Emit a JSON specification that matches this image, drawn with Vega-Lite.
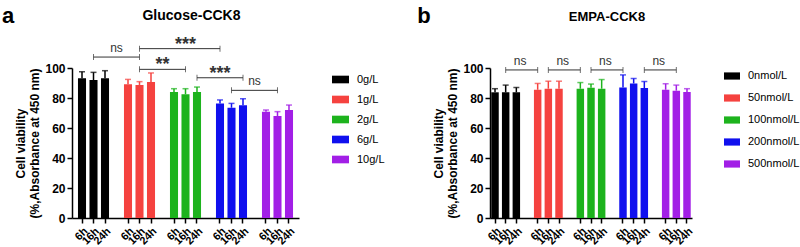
{
  "$schema": "https://vega.github.io/schema/vega-lite/v6.json",
  "padding": {"left": 1, "top": 4, "right": 0, "bottom": 0},
  "spacing": 29,
  "config": {
    "view": {"stroke": null},
    "font": "Liberation Sans",
    "axis": {"domainColor": "black", "domainWidth": 1.5, "tickColor": "black", "tickWidth": 1.5, "tickSize": 5, "labelFont": "Liberation Sans", "labelFontWeight": "bold", "labelColor": "black", "titleFont": "Liberation Sans", "titleColor": "black", "grid": false},
    "legend": {"labelFont": "Liberation Sans", "labelFontSize": 11, "labelColor": "black", "symbolType": "M-1,-0.45H1V0.45H-1Z", "symbolSize": 289, "symbolStrokeWidth": 0, "rowPadding": 5, "labelOffset": 8, "offset": 33, "padding": 0}
  },
  "hconcat": [
    {
      "width": 227,
      "height": 150,
      "data": {"values": [
        {"bar": "0g/L|6h", "group": "0g/L", "mean": 93.1, "top": 97.5},
        {"bar": "0g/L|16h", "group": "0g/L", "mean": 92.0, "top": 97.1},
        {"bar": "0g/L|24h", "group": "0g/L", "mean": 93.1, "top": 98.2},
        {"bar": "1g/L|6h", "group": "1g/L", "mean": 89.1, "top": 92.4},
        {"bar": "1g/L|16h", "group": "1g/L", "mean": 88.7, "top": 90.9},
        {"bar": "1g/L|24h", "group": "1g/L", "mean": 90.7, "top": 96.7},
        {"bar": "2g/L|6h", "group": "2g/L", "mean": 84.0, "top": 86.2},
        {"bar": "2g/L|16h", "group": "2g/L", "mean": 82.5, "top": 86.2},
        {"bar": "2g/L|24h", "group": "2g/L", "mean": 84.0, "top": 87.3},
        {"bar": "6g/L|6h", "group": "6g/L", "mean": 76.4, "top": 78.7},
        {"bar": "6g/L|16h", "group": "6g/L", "mean": 73.5, "top": 76.4},
        {"bar": "6g/L|24h", "group": "6g/L", "mean": 75.1, "top": 79.5},
        {"bar": "10g/L|6h", "group": "10g/L", "mean": 70.9, "top": 72.0},
        {"bar": "10g/L|16h", "group": "10g/L", "mean": 68.0, "top": 70.9},
        {"bar": "10g/L|24h", "group": "10g/L", "mean": 72.0, "top": 75.3}
      ]},
      "encoding": {
        "x": {"field": "bar", "type": "nominal", "sort": null,
          "scale": {"domain": ["0g/L|6h", "0g/L|16h", "0g/L|24h", "gap1", "1g/L|6h", "1g/L|16h", "1g/L|24h", "gap2", "2g/L|6h", "2g/L|16h", "2g/L|24h", "gap3", "6g/L|6h", "6g/L|16h", "6g/L|24h", "gap4", "10g/L|6h", "10g/L|16h", "10g/L|24h"], "paddingInner": 0.3, "paddingOuter": 0.52},
          "axis": {"title": null, "labelAngle": -45, "labelFontSize": 11, "labelPadding": 2,
            "values": ["0g/L|6h", "0g/L|16h", "0g/L|24h", "1g/L|6h", "1g/L|16h", "1g/L|24h", "2g/L|6h", "2g/L|16h", "2g/L|24h", "6g/L|6h", "6g/L|16h", "6g/L|24h", "10g/L|6h", "10g/L|16h", "10g/L|24h"],
            "labelExpr": "split(datum.value, '|')[1]"}},
        "y": {"type": "quantitative", "scale": {"domain": [0, 100], "nice": false},
          "axis": {"values": [0, 20, 40, 60, 80, 100], "labelFontSize": 12, "title": ["Cell viability", "(%,Absorbance at 450 nm)"], "titleFontSize": 12, "titleFontWeight": "bold", "titleLineHeight": 14, "titlePadding": 3}}
      },
      "layer": [
        {"mark": {"type": "bar"},
          "encoding": {"y": {"field": "mean", "type": "quantitative"},
            "color": {"field": "group", "type": "nominal", "title": null,
              "scale": {"domain": ["0g/L", "1g/L", "2g/L", "6g/L", "10g/L"], "range": ["#000000", "#F5423F", "#1DB31D", "#1010EE", "#A21FE6"]},
              "legend": {"symbolSize": 289, "offset": 30, "padding": 3, "rowPadding": 6}}}},
        {"mark": {"type": "rule", "strokeWidth": 1.5},
          "encoding": {"y": {"field": "mean", "type": "quantitative"}, "y2": {"field": "top"},
            "stroke": {"field": "group", "type": "nominal", "legend": null,
              "scale": {"domain": ["0g/L", "1g/L", "2g/L", "6g/L", "10g/L"], "range": ["#000000", "#F5423F", "#1DB31D", "#1010EE", "#A21FE6"]}}}},
        {"mark": {"type": "tick", "orient": "horizontal", "size": 6, "thickness": 1.5},
          "encoding": {"y": {"field": "top", "type": "quantitative"},
            "fill": {"field": "group", "type": "nominal", "legend": null,
              "scale": {"domain": ["0g/L", "1g/L", "2g/L", "6g/L", "10g/L"], "range": ["#000000", "#F5423F", "#1DB31D", "#1010EE", "#A21FE6"]}}}},
        {
          "data": {"values": [
            {"from": "0g/L|16h", "to": "1g/L|16h", "yv": 107.3, "label": "ns", "at": "gap1"},
            {"from": "1g/L|16h", "to": "6g/L|6h", "yv": 112.9, "label": "***", "at": "2g/L|16h"},
            {"from": "1g/L|16h", "to": "2g/L|16h", "yv": 99.1, "label": "**", "at": "gap2"},
            {"from": "2g/L|24h", "to": "6g/L|24h", "yv": 93.5, "label": "***", "at": "6g/L|6h"},
            {"from": "6g/L|16h", "to": "10g/L|16h", "yv": 85.1, "label": "ns", "at": "gap4"}
          ]},
          "layer": [
            {"mark": {"type": "rule", "color": "#333333", "strokeWidth": 1},
              "encoding": {"x": {"field": "from", "type": "nominal"}, "x2": {"field": "to"}, "y": {"field": "yv", "type": "quantitative"}}},
            {"mark": {"type": "tick", "orient": "vertical", "size": 6, "thickness": 1, "color": "#333333"},
              "encoding": {"x": {"field": "from", "type": "nominal"}, "y": {"field": "yv", "type": "quantitative"}}},
            {"mark": {"type": "tick", "orient": "vertical", "size": 6, "thickness": 1, "color": "#333333"},
              "encoding": {"x": {"field": "to", "type": "nominal"}, "y": {"field": "yv", "type": "quantitative"}}},
            {"transform": [{"filter": "datum.label === 'ns'"}],
              "mark": {"type": "text", "fontSize": 12, "baseline": "alphabetic", "dy": -5, "color": "#333333"},
              "encoding": {"x": {"field": "at", "type": "nominal"}, "y": {"field": "yv", "type": "quantitative"}, "text": {"field": "label"}}},
            {"transform": [{"filter": "datum.label !== 'ns'"}],
              "mark": {"type": "text", "fontSize": 18, "fontWeight": "bold", "baseline": "alphabetic", "dy": 1, "color": "#333333"},
              "encoding": {"x": {"field": "at", "type": "nominal"}, "y": {"field": "yv", "type": "quantitative"}, "text": {"field": "label"}}}
          ]
        },
        {"data": {"values": [{"t": "Glucose-CCK8", "at": "2g/L|16h", "yv": 135}]},
          "mark": {"type": "text", "fontSize": 14, "fontWeight": "bold", "baseline": "middle", "dx": 6, "color": "black"},
          "encoding": {"x": {"field": "at", "type": "nominal"}, "y": {"field": "yv", "type": "quantitative"}, "text": {"field": "t"}}},
        {"data": {"values": [{"t": "a", "at": "0g/L|6h", "yv": 135}]},
          "mark": {"type": "text", "fontSize": 22, "fontWeight": "bold", "baseline": "middle", "dx": -74, "color": "black"},
          "encoding": {"x": {"field": "at", "type": "nominal"}, "y": {"field": "yv", "type": "quantitative"}, "text": {"field": "t"}}}
      ]
    },
    {
      "width": 202,
      "height": 150,
      "data": {"values": [
        {"bar": "0nmol/L|6h", "group": "0nmol/L", "mean": 83.8, "top": 86.2},
        {"bar": "0nmol/L|16h", "group": "0nmol/L", "mean": 83.8, "top": 88.6},
        {"bar": "0nmol/L|24h", "group": "0nmol/L", "mean": 83.8, "top": 87.0},
        {"bar": "50nmol/L|6h", "group": "50nmol/L", "mean": 85.5, "top": 89.7},
        {"bar": "50nmol/L|16h", "group": "50nmol/L", "mean": 86.2, "top": 91.2},
        {"bar": "50nmol/L|24h", "group": "50nmol/L", "mean": 86.2, "top": 91.2},
        {"bar": "100nmol/L|6h", "group": "100nmol/L", "mean": 86.2, "top": 90.3},
        {"bar": "100nmol/L|16h", "group": "100nmol/L", "mean": 86.8, "top": 89.3},
        {"bar": "100nmol/L|24h", "group": "100nmol/L", "mean": 86.2, "top": 92.3},
        {"bar": "200nmol/L|6h", "group": "200nmol/L", "mean": 87.0, "top": 95.4},
        {"bar": "200nmol/L|16h", "group": "200nmol/L", "mean": 89.7, "top": 93.0},
        {"bar": "200nmol/L|24h", "group": "200nmol/L", "mean": 86.6, "top": 91.0},
        {"bar": "500nmol/L|6h", "group": "500nmol/L", "mean": 85.5, "top": 89.5},
        {"bar": "500nmol/L|16h", "group": "500nmol/L", "mean": 84.9, "top": 88.6},
        {"bar": "500nmol/L|24h", "group": "500nmol/L", "mean": 84.0, "top": 86.2}
      ]},
      "encoding": {
        "x": {"field": "bar", "type": "nominal", "sort": null,
          "scale": {"domain": ["0nmol/L|6h", "0nmol/L|16h", "0nmol/L|24h", "gap1", "50nmol/L|6h", "50nmol/L|16h", "50nmol/L|24h", "gap2", "100nmol/L|6h", "100nmol/L|16h", "100nmol/L|24h", "gap3", "200nmol/L|6h", "200nmol/L|16h", "200nmol/L|24h", "gap4", "500nmol/L|6h", "500nmol/L|16h", "500nmol/L|24h"], "paddingInner": 0.3, "paddingOuter": 0.12},
          "axis": {"title": null, "labelAngle": -45, "labelFontSize": 11, "labelPadding": 2,
            "values": ["0nmol/L|6h", "0nmol/L|16h", "0nmol/L|24h", "50nmol/L|6h", "50nmol/L|16h", "50nmol/L|24h", "100nmol/L|6h", "100nmol/L|16h", "100nmol/L|24h", "200nmol/L|6h", "200nmol/L|16h", "200nmol/L|24h", "500nmol/L|6h", "500nmol/L|16h", "500nmol/L|24h"],
            "labelExpr": "split(datum.value, '|')[1]"}},
        "y": {"type": "quantitative", "scale": {"domain": [0, 100], "nice": false},
          "axis": {"values": [0, 20, 40, 60, 80, 100], "labelFontSize": 12, "title": ["Cell viability", "(%,Absorbance at 450 nm)"], "titleFontSize": 12, "titleFontWeight": "bold", "titleLineHeight": 14, "titlePadding": 3}}
      },
      "layer": [
        {"mark": {"type": "bar"},
          "encoding": {"y": {"field": "mean", "type": "quantitative"},
            "color": {"field": "group", "type": "nominal", "title": null,
              "scale": {"domain": ["0nmol/L", "50nmol/L", "100nmol/L", "200nmol/L", "500nmol/L"], "range": ["#000000", "#F5423F", "#1DB31D", "#1010EE", "#A21FE6"]},
              "legend": {"symbolSize": 256, "offset": 32, "padding": 0, "rowPadding": 9}}}},
        {"mark": {"type": "rule", "strokeWidth": 1.5},
          "encoding": {"y": {"field": "mean", "type": "quantitative"}, "y2": {"field": "top"},
            "stroke": {"field": "group", "type": "nominal", "legend": null,
              "scale": {"domain": ["0nmol/L", "50nmol/L", "100nmol/L", "200nmol/L", "500nmol/L"], "range": ["#000000", "#F5423F", "#1DB31D", "#1010EE", "#A21FE6"]}}}},
        {"mark": {"type": "tick", "orient": "horizontal", "size": 6, "thickness": 1.5},
          "encoding": {"y": {"field": "top", "type": "quantitative"},
            "fill": {"field": "group", "type": "nominal", "legend": null,
              "scale": {"domain": ["0nmol/L", "50nmol/L", "100nmol/L", "200nmol/L", "500nmol/L"], "range": ["#000000", "#F5423F", "#1DB31D", "#1010EE", "#A21FE6"]}}}},
        {
          "data": {"values": [
            {"from": "0nmol/L|16h", "to": "50nmol/L|6h", "yv": 98.7, "label": "ns", "at": "0nmol/L|24h"},
            {"from": "50nmol/L|16h", "to": "100nmol/L|6h", "yv": 98.7, "label": "ns", "at": "50nmol/L|24h"},
            {"from": "100nmol/L|16h", "to": "200nmol/L|6h", "yv": 98.7, "label": "ns", "at": "100nmol/L|24h"},
            {"from": "200nmol/L|24h", "to": "500nmol/L|16h", "yv": 98.7, "label": "ns", "at": "gap4"}
          ]},
          "layer": [
            {"mark": {"type": "rule", "color": "#333333", "strokeWidth": 1},
              "encoding": {"x": {"field": "from", "type": "nominal"}, "x2": {"field": "to"}, "y": {"field": "yv", "type": "quantitative"}}},
            {"mark": {"type": "tick", "orient": "vertical", "size": 6, "thickness": 1, "color": "#333333"},
              "encoding": {"x": {"field": "from", "type": "nominal"}, "y": {"field": "yv", "type": "quantitative"}}},
            {"mark": {"type": "tick", "orient": "vertical", "size": 6, "thickness": 1, "color": "#333333"},
              "encoding": {"x": {"field": "to", "type": "nominal"}, "y": {"field": "yv", "type": "quantitative"}}},
            {"mark": {"type": "text", "fontSize": 12, "baseline": "alphabetic", "dy": -5, "color": "#333333"},
              "encoding": {"x": {"field": "at", "type": "nominal", "bandPosition": 1}, "y": {"field": "yv", "type": "quantitative"}, "text": {"field": "label"}}}
          ]
        },
        {"data": {"values": [{"t": "EMPA-CCK8", "at": "100nmol/L|16h", "yv": 134}]},
          "mark": {"type": "text", "fontSize": 13, "fontWeight": "bold", "baseline": "middle", "dx": 16, "color": "black"},
          "encoding": {"x": {"field": "at", "type": "nominal"}, "y": {"field": "yv", "type": "quantitative"}, "text": {"field": "t"}}},
        {"data": {"values": [{"t": "b", "at": "0nmol/L|6h", "yv": 135}]},
          "mark": {"type": "text", "fontSize": 22, "fontWeight": "bold", "baseline": "middle", "dx": -71, "color": "black"},
          "encoding": {"x": {"field": "at", "type": "nominal"}, "y": {"field": "yv", "type": "quantitative"}, "text": {"field": "t"}}}
      ]
    }
  ],
  "resolve": {"scale": {"color": "independent", "stroke": "independent", "fill": "independent", "x": "independent", "y": "independent"}, "legend": {"color": "independent"}}
}
